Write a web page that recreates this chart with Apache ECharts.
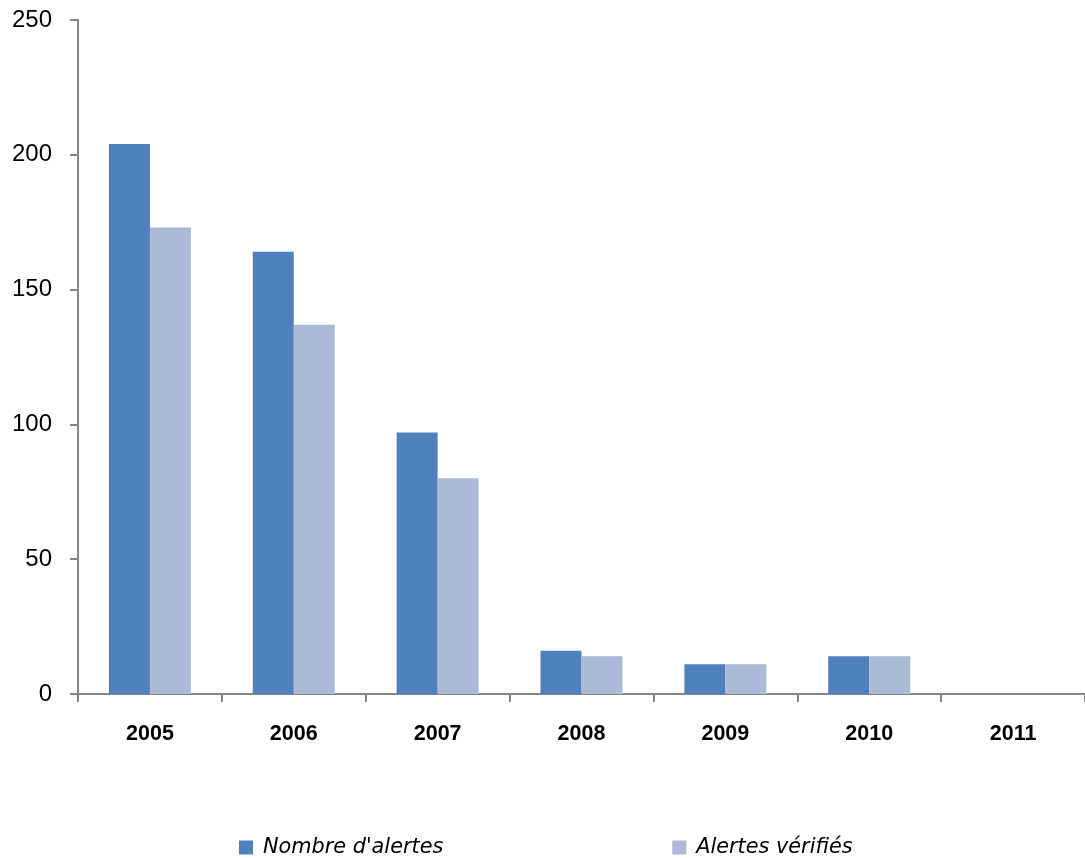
<!DOCTYPE html>
<html><head><meta charset="utf-8">
<script src="https://cdn.jsdelivr.net/npm/echarts@6/dist/echarts.min.js"></script>
<style>html,body{margin:0;padding:0;background:#fff}#c{width:1085px;height:858px}</style>
</head><body><div id="c"></div>
<script>
var categories = ['2005','2006','2007','2008','2009','2010','2011'];
var nombreAlertes = [204, 164, 97, 16, 11, 14, 0];
var alertesVerifiees = [173, 137, 80, 14, 11, 14, 0];
var seriesNames = ["Nombre d'alertes", "Alertes vérifiés"];

var chart = echarts.init(document.getElementById('c'), null, {renderer:'canvas'});
chart.setOption({
  animation: false,
  backgroundColor: '#fff',
  grid: {left: 78, right: 0, top: 20, bottom: 164, containLabel: false},
  legend: {
    data: seriesNames,
    left: 234, top: 832,
    itemWidth: 14, itemHeight: 14, itemGap: 229,
    icon: 'rect',
    textStyle: {fontFamily: 'DejaVu Sans', fontStyle: 'italic', fontSize: 20.8, color: '#000', padding: [0,0,0,5]}
  },
  xAxis: {
    type: 'category', data: categories, boundaryGap: true,
    axisLine: {lineStyle: {color: '#868686', width: 2}},
    axisTick: {show: true, length: 8, alignWithLabel: false, lineStyle: {color: '#868686', width: 2}},
    axisLabel: {fontFamily: 'Liberation Sans', fontWeight: 'bold', fontSize: 21.5, color: '#000', margin: 29}
  },
  yAxis: {
    type: 'value', min: 0, max: 250, interval: 50,
    splitLine: {show: false},
    axisLine: {show: true, lineStyle: {color: '#868686', width: 2}},
    axisTick: {show: true, length: 8, lineStyle: {color: '#868686', width: 2}},
    axisLabel: {fontFamily: 'Liberation Sans', fontSize: 24, color: '#000', margin: 26}
  },
  series: [
    {name: seriesNames[0], type: 'bar', data: nombreAlertes, barWidth: 41, barGap: '0%',
     itemStyle: {color: '#4F81BD'}},
    {name: seriesNames[1], type: 'bar', data: alertesVerifiees, barWidth: 41, barGap: '0%',
     itemStyle: {color: '#AABAD7'}}
  ]
});
</script></body></html>
